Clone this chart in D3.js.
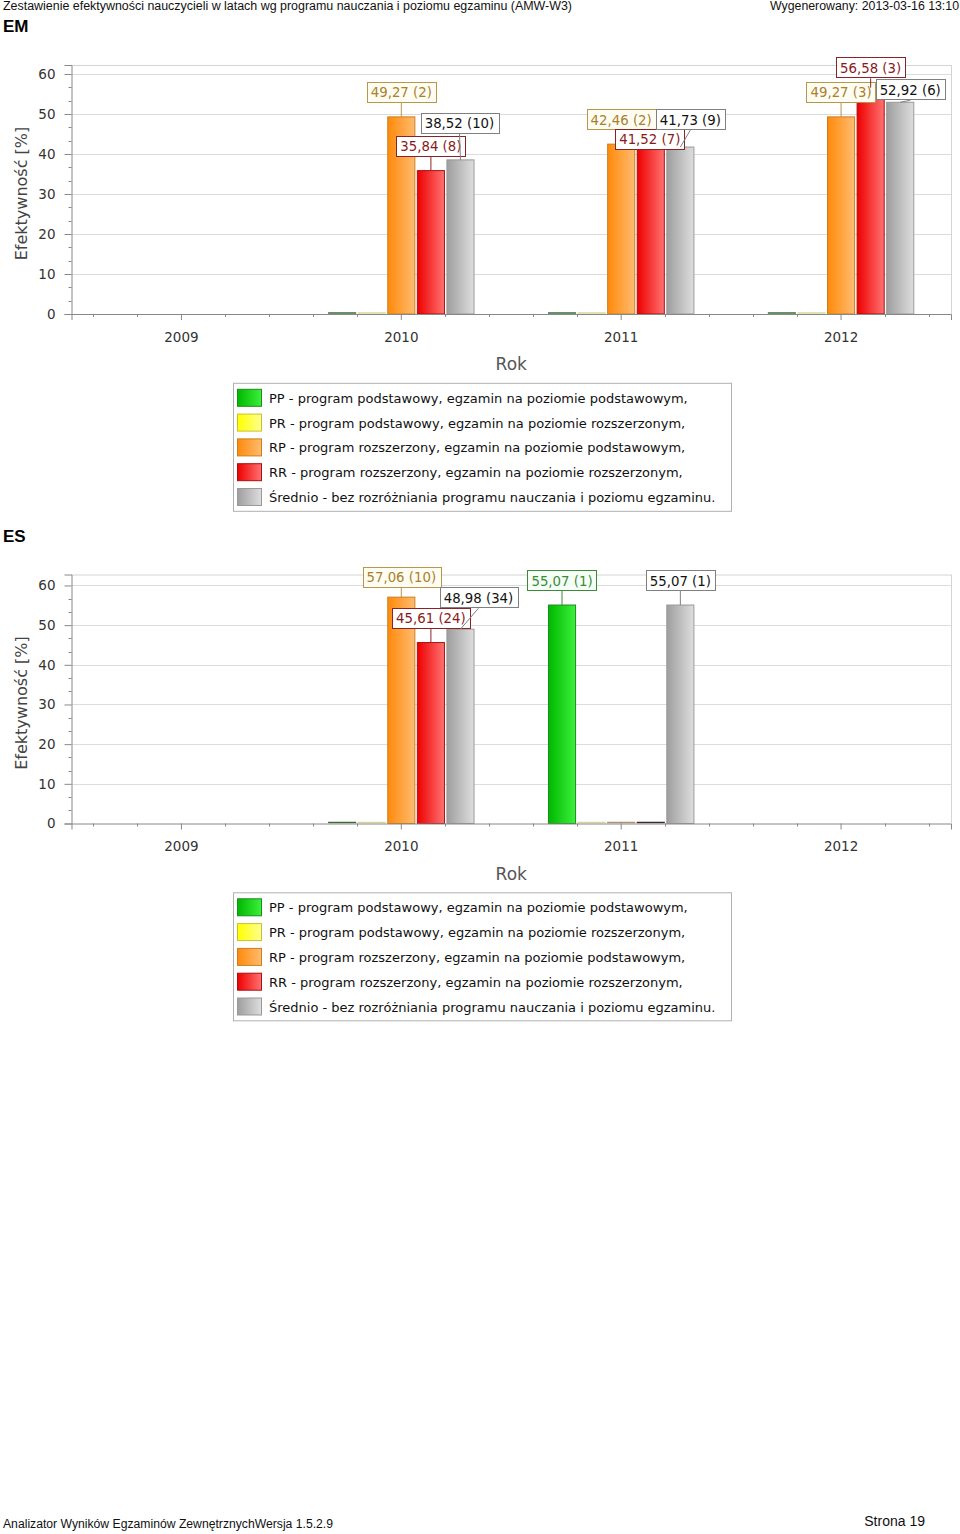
<!DOCTYPE html>
<html><head><meta charset="utf-8">
<script src="https://cdn.jsdelivr.net/npm/d3@7"></script>
<style>body{margin:0;background:#fff}svg{display:block}</style>
</head><body>
<script>
// ---------- data ----------
const years = ["2009", "2010", "2011", "2012"];
const seriesKeys = ["PP", "PR", "RP", "RR", "Sr"];
const legendLabels = [
  "PP - program podstawowy, egzamin na poziomie podstawowym,",
  "PR - program podstawowy, egzamin na poziomie rozszerzonym,",
  "RP - program rozszerzony, egzamin na poziomie podstawowym,",
  "RR - program rozszerzony, egzamin na poziomie rozszerzonym,",
  "Średnio - bez rozróżniania programu nauczania i poziomu egzaminu."
];
const yTicks = [0, 10, 20, 30, 40, 50, 60];

// EM values per series (null = brak danych)
const emPP = [null, 0, 0, 0];
const emPR = [null, 0, 0, 0];
const emRP = [null, 49.27, 42.46, 49.27];
const emRR = [null, 35.84, 41.52, 56.58];
const emSr = [null, 38.52, 41.73, 52.92];
// EM counts
const emPPn = [null, null, null, null];
const emPRn = [null, null, null, null];
const emRPn = [null, 2, 2, 3];
const emRRn = [null, 8, 7, 3];
const emSrn = [null, 10, 9, 6];

// ES values per series
const esPP = [null, 0, 55.07, null];
const esPR = [null, 0, 0, null];
const esRP = [null, 57.06, 0, null];
const esRR = [null, 45.61, 0, null];
const esSr = [null, 48.98, 55.07, null];
// ES counts
const esPPn = [null, null, 1, null];
const esPRn = [null, null, null, null];
const esRPn = [null, 10, null, null];
const esRRn = [null, 24, null, null];
const esSrn = [null, 34, 1, null];

// ---------- layout / style (not data) ----------
const labelNudges = [
  {chart: "EM", year: "2010", key: "Sr", dx: -1, dy: -12},
  {chart: "EM", year: "2011", key: "Sr", dx: 10, dy: -3},
  {chart: "EM", year: "2011", key: "RR", dx: -1, dy: 16},
  {chart: "EM", year: "2012", key: "Sr", dx: 10, dy: 12},
  {chart: "ES", year: "2010", key: "Sr", dx: 18, dy: -7}
];
const styles = {
  PP: {c0: "#00b800", c1: "#3cf03c", stroke: "#1f8a1f", zero: "#3a6a3a", text: "#3a8a3a", box: "#3a8a3a", bg: "#f6fff6"},
  PR: {c0: "#ffff00", c1: "#ffff90", stroke: "#c8c030", zero: "#d8d49a", text: "#8a8a20", box: "#b0a830", bg: "#ffffee"},
  RP: {c0: "#ff8a0a", c1: "#ffbb70", stroke: "#c8801e", zero: "#b09070", text: "#a8802e", box: "#b8964c", bg: "#fffdf2"},
  RR: {c0: "#ee0000", c1: "#ff7272", stroke: "#a81010", zero: "#3a2a2a", text: "#8a1a1a", box: "#8a2424", bg: "#ffffff"},
  Sr: {c0: "#9e9e9e", c1: "#dedede", stroke: "#999999", zero: "#777777", text: "#111111", box: "#808080", bg: "#ffffff"}
};
const FONT = "DejaVu Sans, Verdana, sans-serif";

const charts = [
  {name: "EM", top: 65, values: {PP: emPP, PR: emPR, RP: emRP, RR: emRR, Sr: emSr},
   counts: {PP: emPPn, PR: emPRn, RP: emRPn, RR: emRRn, Sr: emSrn}},
  {name: "ES", top: 574.5, values: {PP: esPP, PR: esPR, RP: esRP, RR: esRR, Sr: esSr},
   counts: {PP: esPPn, PR: esPRn, RP: esRPn, RR: esRRn, Sr: esSrn}}
];

const W = 960, H = 1534;
const svg = d3.select("body").append("svg").attr("width", W).attr("height", H)
  .attr("font-family", FONT);

// gradients
const defs = svg.append("defs");
seriesKeys.forEach(k => {
  const g = defs.append("linearGradient").attr("id", "g" + k)
    .attr("x1", "0%").attr("x2", "100%").attr("y1", "0%").attr("y2", "0%");
  g.append("stop").attr("offset", "0%").attr("stop-color", styles[k].c0);
  g.append("stop").attr("offset", "100%").attr("stop-color", styles[k].c1);
});

// header / footer
const hdrFont = "Liberation Sans, Arial, sans-serif";
svg.append("text").attr("x", 3).attr("y", 10).attr("font-family", hdrFont).attr("font-size", 12)
  .attr("textLength", 569).attr("lengthAdjust", "spacingAndGlyphs")
  .attr("fill", "#111").text("Zestawienie efektywności nauczycieli w latach wg programu nauczania i poziomu egzaminu (AMW-W3)");
svg.append("text").attr("x", 770).attr("y", 10).attr("font-family", hdrFont)
  .attr("font-size", 12).attr("textLength", 189).attr("lengthAdjust", "spacingAndGlyphs")
  .attr("fill", "#111").text("Wygenerowany: 2013-03-16 13:10");
svg.append("text").attr("x", 3).attr("y", 1528).attr("font-family", hdrFont).attr("font-size", 12.5)
  .attr("textLength", 330).attr("lengthAdjust", "spacingAndGlyphs")
  .attr("fill", "#111").text("Analizator Wyników Egzaminów ZewnętrznychWersja 1.5.2.9");
svg.append("text").attr("x", 925).attr("y", 1526).attr("text-anchor", "end").attr("font-family", hdrFont)
  .attr("font-size", 14).attr("fill", "#111").text("Strona 19");

const left = 71.5, right = 951, plotH = 249;

charts.forEach(ch => {
  const g = svg.append("g");
  const top = ch.top, bottom = top + plotH;

  g.append("text").attr("x", 3).attr("y", top - 33).attr("font-family", hdrFont)
    .attr("font-size", 17).attr("font-weight", "bold").attr("fill", "#000").text(ch.name);

  const allVals = seriesKeys.flatMap(k => ch.values[k]).filter(v => v != null);
  const y = d3.scaleLinear().domain([0, d3.max(allVals) * 1.1]).range([bottom, top]);
  const x0 = d3.scaleBand().domain(years).range([left, right]).paddingInner(0.334).paddingOuter(0.167);
  const x1 = d3.scaleBand().domain(seriesKeys).range([0, x0.bandwidth()]).paddingInner(0.05);
  const step = x0.step();

  // grid
  g.append("g").selectAll("line").data(yTicks.filter(t => t > 0)).join("line")
    .attr("x1", left).attr("x2", right).attr("y1", d => Math.round(y(d)) + 0.5).attr("y2", d => Math.round(y(d)) + 0.5)
    .attr("stroke", "#dcdcdc");
  // border top/right
  g.append("line").attr("x1", left).attr("x2", right).attr("y1", top + 0.5).attr("y2", top + 0.5).attr("stroke", "#d4d4d4");
  g.append("line").attr("x1", right + 0.5).attr("x2", right + 0.5).attr("y1", top).attr("y2", bottom).attr("stroke", "#d4d4d4");

  // y axis
  const yAxis = d3.axisLeft(y).tickValues(yTicks).tickSize(7).tickPadding(9);
  const ya = g.append("g").attr("transform", `translate(${left},0)`).call(yAxis);
  ya.select(".domain").attr("stroke", "#888");
  ya.selectAll(".tick line").attr("stroke", "#888");
  ya.selectAll(".tick text").attr("font-family", FONT).attr("font-size", 13.5).attr("fill", "#333");
  const minorY = d3.range(0, y.domain()[1], 10 / 3).filter(v => Math.abs(v / 10 - Math.round(v / 10)) > 0.01);
  g.append("g").selectAll("line").data(minorY).join("line")
    .attr("x1", left - 3).attr("x2", left).attr("y1", d => Math.round(y(d)) + 0.5).attr("y2", d => Math.round(y(d)) + 0.5)
    .attr("stroke", "#888");

  // bars
  const barG = g.append("g");
  seriesKeys.forEach(k => {
    const vals = ch.values[k];
    const data = years.map((yr, i) => ({yr, v: vals[i]})).filter(d => d.v != null);
    barG.append("g").selectAll("rect").data(data.filter(d => d.v > 0)).join("rect")
      .attr("x", d => x0(d.yr) + x1(k) + 0.5)
      .attr("width", x1.bandwidth() - 1)
      .attr("y", d => y(d.v))
      .attr("height", d => bottom - y(d.v))
      .attr("fill", `url(#g${k})`)
      .attr("stroke", styles[k].stroke).attr("stroke-width", 1);
    // zero-valued bars appear as thin lines on the axis
    barG.append("g").selectAll("line").data(data.filter(d => d.v === 0)).join("line")
      .attr("x1", d => x0(d.yr) + x1(k)).attr("x2", d => x0(d.yr) + x1(k) + x1.bandwidth())
      .attr("y1", d => y(d.v) - 1).attr("y2", d => y(d.v) - 1)
      .attr("stroke", styles[k].zero).attr("stroke-width", 1.5);
  });

  // x axis
  const xAxis = d3.axisBottom(x0).tickSize(6).tickPadding(12);
  const xa = g.append("g").attr("transform", `translate(0,${bottom})`).call(xAxis);
  xa.select(".domain").attr("stroke", "#888");
  xa.selectAll(".tick line").attr("stroke", "#888");
  xa.selectAll(".tick text").attr("font-family", FONT).attr("font-size", 13.5).attr("fill", "#333");
  const minorX = years.flatMap(yr => d3.range(5).filter(j => j !== 2).map(j => x0(yr) - step * 0.167 + step * (0.1 + 0.2 * j)));
  g.append("g").selectAll("line").data(minorX).join("line")
    .attr("x1", d => Math.round(d) + 0.5).attr("x2", d => Math.round(d) + 0.5)
    .attr("y1", bottom).attr("y2", bottom + 3).attr("stroke", "#888");

  // axis titles
  g.append("text").attr("transform", `translate(27,${(top + bottom) / 2 + 4}) rotate(-90)`)
    .attr("text-anchor", "middle").attr("font-size", 16).attr("fill", "#444").text("Efektywność [%]");
  g.append("text").attr("x", (left + right) / 2).attr("y", bottom + 56).attr("text-anchor", "middle")
    .attr("font-size", 17).attr("fill", "#555").text("Rok");

  // value labels
  const labG = g.append("g");
  seriesKeys.forEach(k => {
    years.forEach((yr, i) => {
      const v = ch.values[k][i];
      if (v == null || v === 0) return;
      const n = ch.counts[k][i];
      const txt = d3.format(".2f")(v).replace(".", ",") + " (" + n + ")";
      const cx = x0(yr) + x1(k) + x1.bandwidth() / 2;
      const barTop = y(v);
      const nudge = labelNudges.find(o => o.chart === ch.name && o.year === yr && o.key === k) || {dx: 0, dy: 0};
      const bh = 21;
      let bTop = barTop - 14 - bh;
      bTop = Math.max(bTop, top - 7.7);
      bTop += nudge.dy;
      const bcx = cx + nudge.dx;
      const lg = labG.append("g");
      lg.append("line").attr("x1", bcx).attr("y1", bTop + bh).attr("x2", cx).attr("y2", barTop)
        .attr("stroke", styles[k].box);
      const rect = lg.append("rect").attr("fill", styles[k].bg).attr("stroke", styles[k].box);
      const t = lg.append("text").attr("x", bcx).attr("y", bTop + bh / 2 + 5).attr("text-anchor", "middle")
        .attr("font-size", 13.3).attr("fill", styles[k].text).text(txt);
      const tw = t.node().getComputedTextLength();
      const bw = tw + 8;
      rect.attr("x", Math.round(bcx - bw / 2) + 0.5).attr("y", Math.round(bTop) + 0.5).attr("width", Math.round(bw)).attr("height", bh - 1);
    });
  });

  // legend
  const lgTop = top + 318.3, lgLeft = 233.5;
  const leg = g.append("g");
  leg.append("rect").attr("x", lgLeft).attr("y", lgTop).attr("width", 498).attr("height", 128)
    .attr("fill", "#fff").attr("stroke", "#b0b0b0");
  const rows = leg.selectAll("g.row").data(seriesKeys).join("g").attr("class", "row")
    .attr("transform", (d, i) => `translate(${lgLeft},${lgTop + i * 24.8})`);
  rows.append("rect").attr("x", 4).attr("y", 6).attr("width", 24).attr("height", 17)
    .attr("fill", d => `url(#g${d})`).attr("stroke", d => styles[d].stroke);
  rows.append("text").attr("x", 35.5).attr("y", 19.5).attr("font-size", 13).attr("fill", "#111")
    .text((d, i) => legendLabels[i]);
});
</script>
</body></html>
